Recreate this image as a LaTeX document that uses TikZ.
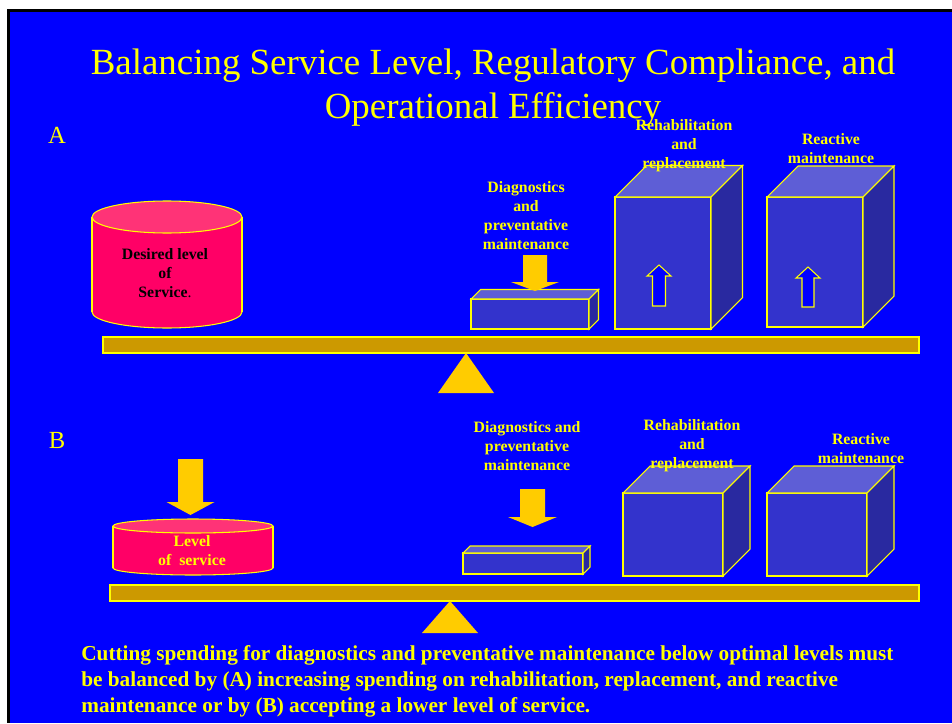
\documentclass[tikz,border=0pt]{standalone}
\usepackage{fontspec}
\setmainfont{Liberation Serif}
\definecolor{slideblue}{RGB}{0,0,255}
\definecolor{slideyellow}{RGB}{255,255,0}
\definecolor{arrowgold}{RGB}{255,204,0}
\definecolor{beamgold}{RGB}{204,153,0}
\definecolor{boxfront}{RGB}{51,51,204}
\definecolor{boxtop}{RGB}{94,94,214}
\definecolor{boxside}{RGB}{41,41,160}
\definecolor{drumbody}{RGB}{255,0,102}
\definecolor{drumtop}{RGB}{255,51,119}

% front top-left corner, width, height, depth (pixel units)
\newcommand{\drawcuboid}[5]{%
  \draw[boxedge, fill=boxfront] (#1,#2) rectangle ++(#3,#4);
  \draw[boxedge, fill=boxtop] (#1,#2) -- ++(#5,-#5) -- ++(#3,0) -- ++(-#5,#5) -- cycle;
  \draw[boxedge, fill=boxside] (#1+#3,#2) -- ++(#5,-#5) -- ++(0,#4) -- ++(-#5,#5) -- cycle;
}
% centre x, shaft top, shaft half width, head base, head half width, tip
\newcommand{\fatdownarrow}[6]{%
  \fill[arrowgold] (#1-#3,#2) -- (#1+#3,#2) -- (#1+#3,#4) -- (#1+#5,#4) -- (#1,#6)
    -- (#1-#5,#4) -- (#1-#3,#4) -- cycle;
}
% centre x, shaft bottom, shaft half width, head base, head half width, tip
\newcommand{\hollowuparrow}[6]{%
  \draw[slideyellow, fill=slideblue, line width=0.6pt] (#1-#3,#2) -- (#1+#3,#2) -- (#1+#3,#4)
    -- (#1+#5,#4) -- (#1,#6) -- (#1-#5,#4) -- (#1-#3,#4) -- cycle;
}
% centre x, left x, right x, top centre y, bottom centre y, y radius
\newcommand{\drawdrum}[6]{%
  \draw[drumedge, fill=drumbody] (#1,#5) ellipse [x radius=#3-#1, y radius=#6];
  \fill[drumbody] (#2,#4) rectangle (#3,#5);
  \draw[drumedge] (#2,#4) -- (#2,#5);
  \draw[drumedge] (#3,#4) -- (#3,#5);
  \draw[drumedge, fill=drumtop] (#1,#4) ellipse [x radius=#3-#1, y radius=#6];
}

\begin{document}
\begin{tikzpicture}[x=0.02cm, y=-0.02cm,
    boxedge/.style ={draw=slideyellow, line width=0.6pt},
    drumedge/.style ={draw=slideyellow, line width=0.6pt},
    beam/.style ={draw=slideyellow, fill=beamgold, line width=0.6pt},
    pivot/.style ={fill=arrowgold},
    label/.style ={text=slideyellow, font=\bfseries\fontsize{9}{10.8}\selectfont, align=center, inner sep=0pt},
    title/.style ={text=slideyellow, font=\fontsize{21}{25}\selectfont, align=center, inner sep=0pt}]
   % slide background
   \fill[white] (0,0) rectangle (952,723);
   \fill[black] (7,9) rectangle (952,723);
   \fill[slideblue] (10,12) rectangle (952,723);

   \node[title] (heading) at (493,88) {Balancing Service Level, Regulatory Compliance, and\\Operational Efficiency};
   \node[title, font=\fontsize{14}{16}\selectfont] (partA) at (57,135) {A};
   \node[title, font=\fontsize{14}{16}\selectfont] (partB) at (57,440) {B};

   % part A
   \drawdrum{167}{92}{242}{217}{312}{16}
   \node[label, text=black] (desired) at (165,273) {Desired level\\of\\Service{\mdseries.}};
   \drawcuboid{471}{299}{118}{30}{9.5}
   \drawcuboid{615}{197}{96}{132}{31.5}
   \drawcuboid{767}{197}{96}{130}{31}
   \fatdownarrow{535}{255}{12}{282}{24}{291}
   \hollowuparrow{659}{306}{6.5}{276}{12}{265}
   \hollowuparrow{808}{307}{6}{278}{12}{267}
   \node[label] (diagA) at (526,215.5) {Diagnostics\\and\\preventative\\maintenance};
   \node[label] (rehabA) at (684,146) {Rehabilitation\\and\\replacement};
   \node[label] (reactA) at (831,148.5) {Reactive\\maintenance};
   \draw[beam] (103,337) rectangle (919,353);
   \fill[pivot] (466,353) -- (494,393) -- (438,393) -- cycle;

   % part B
   \fatdownarrow{190.5}{459}{12.5}{502}{24}{515}
   \drawdrum{193}{113}{273}{526}{568}{7}
   \node[label] (levelB) at (192,550.5) {Level\\of\ \ service};
   \drawcuboid{463}{553}{120}{21}{7}
   \drawcuboid{623}{493}{100}{83}{27}
   \drawcuboid{767}{493}{100}{83}{27}
   \fatdownarrow{532.5}{489}{12.5}{517}{24.5}{527}
   \node[label] (diagB) at (527,446) {Diagnostics and\\preventative\\maintenance};
   \node[label] (rehabB) at (692,446) {Rehabilitation\\and\\replacement};
   \node[label] (reactB) at (861,448.5) {Reactive\\maintenance};
   \draw[beam] (110,585) rectangle (919,601);
   \fill[pivot] (450,601) -- (478,633) -- (422,633) -- cycle;

   \node[label, font=\bfseries\fontsize{12.1}{14.8}\selectfont, align=left, anchor=west] (summary) at (81,681)
     {Cutting spending for diagnostics and preventative maintenance below optimal levels must\\
      be balanced by (A) increasing spending on rehabilitation, replacement, and reactive\\
      maintenance or by (B) accepting a lower level of service.};
\end{tikzpicture}
\end{document}
